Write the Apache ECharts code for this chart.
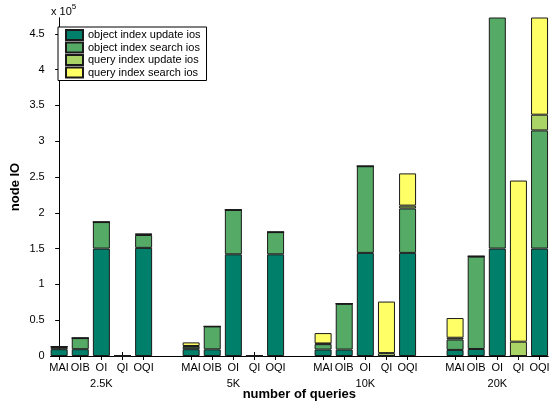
<!DOCTYPE html>
<html>
<head>
<meta charset="utf-8">
<script src="https://cdn.jsdelivr.net/npm/echarts@6/dist/echarts.min.js"></script>
<style>
html,body{margin:0;padding:0;background:#fff;}
#chart{width:559px;height:409px;}
</style>
</head>
<body>
<div id="chart"></div>
<script>
// Groups (number of queries) and methods within each group
const groups = ['2.5K', '5K', '10K', '20K'];
const methods = ['MAI', 'OIB', 'OI', 'QI', 'OQI'];
const seriesNames = ['object index update ios', 'object index search ios', 'query index update ios', 'query index search ios'];
const yTicks = [0, 0.5, 1, 1.5, 2, 2.5, 3, 3.5, 4, 4.5];

// Values in units of 1e5 node IOs, order per group: MAI, OIB, OI, QI, OQI
const objUpdate = [
  0.095, 0.095, 1.50, 0, 1.51,   // 2.5K
  0.095, 0.093, 1.42, 0, 1.42,   // 5K
  0.09,  0.09,  1.44, 0, 1.44,   // 10K
  0.085, 0.098, 1.50, 0, 1.50    // 20K
];
const objSearch = [
  0.03,  0.155, 0.37, 0, 0.18,
  0.035, 0.32,  0.62, 0, 0.31,
  0.075, 0.64,  1.21, 0, 0.62,
  0.145, 1.29,  3.60, 0, 1.65
];
const qryUpdate = [
  0.005, 0, 0, 0,    0.01,
  0.01,  0, 0, 0,    0,
  0.01,  0, 0, 0.04, 0.04,
  0.025, 0.005, 0, 0.20, 0.22
];
const qrySearch = [
  0.005, 0, 0, 0,    0.005,
  0.05,  0, 0, 0,    0,
  0.145, 0, 0, 0.72, 0.45,
  0.275, 0, 0, 2.25, 1.60
];
const seriesValues = [objUpdate, objSearch, qryUpdate, qrySearch];
const colors = ['#00806A', '#55AA66', '#AAD466', '#FFFF66'];

// slot layout along the x axis: bar index within group + group offset
const groupPeriod = 6.25;
const positions = [];
const labels = [];
groups.forEach((g, gi) => {
  methods.forEach((m, mi) => {
    positions.push(gi * groupPeriod + mi);
    labels.push(mi === 2 ? m + '\n' + g : m);
  });
});
const xMin = positions[0] - 0.4;
const xMax = positions[positions.length - 1] + 0.4;

function labelFor(v) {
  for (let i = 0; i < positions.length; i++) {
    if (Math.abs(positions[i] - v) < 1e-6) return labels[i];
  }
  return '';
}

const font = 'Liberation Sans, Arial, Helvetica, sans-serif';
const chart = echarts.init(document.getElementById('chart'), null, {renderer: 'canvas'});

// value is placed in dimension 0 so that it is the stacked dimension
const series = seriesNames.map((name, si) => ({
  name: name,
  type: 'bar',
  stack: 'total',
  barWidth: 17,
  xAxisIndex: 0,
  yAxisIndex: 0,
  clip: true,
  encode: {x: 1, y: 0},
  itemStyle: {color: colors[si], borderColor: '#1a1a1a', borderWidth: 1},
  emphasis: {disabled: true},
  data: seriesValues[si].map((v, i) => [v, positions[i]])
}));

chart.setOption({
  animation: false,
  backgroundColor: '#fff',
  textStyle: {fontFamily: font},
  grid: {left: 50.7, right: 11, top: 18, bottom: 53, containLabel: false, outerBoundsMode: 'none'},
  legend: {
    data: seriesNames,
    orient: 'vertical',
    left: 58,
    top: 27,
    icon: 'rect',
    itemWidth: 17,
    itemHeight: 10,
    itemGap: 0.5,
    padding: [2, 6, 2, 7],
    borderColor: '#000',
    borderWidth: 1,
    backgroundColor: '#fff',
    textStyle: {fontSize: 11, lineHeight: 12, color: '#000', fontFamily: font}
  },
  xAxis: [{
    type: 'value',
    position: 'bottom',
    min: xMin,
    max: xMax,
    name: 'number of queries',
    nameLocation: 'middle',
    nameGap: 32,
    nameMoveOverlap: false,
    nameTextStyle: {fontSize: 13, fontWeight: 'bold', color: '#000', fontFamily: font},
    axisLine: {show: true, lineStyle: {color: '#000', width: 1}},
    axisTick: {show: true, inside: true, length: 4, customValues: positions, lineStyle: {color: '#000'}},
    axisLabel: {
      show: true, customValues: positions, margin: 4, fontSize: 11, color: '#000',
      lineHeight: 16, fontFamily: font, formatter: labelFor
    },
    splitLine: {show: false}
  }, {
    type: 'value',
    position: 'top',
    min: xMin,
    max: xMax,
    axisLine: {show: true, lineStyle: {color: '#000', width: 1}},
    axisTick: {show: true, inside: true, length: 4, customValues: positions, lineStyle: {color: '#000'}},
    axisLabel: {show: false},
    splitLine: {show: false}
  }],
  yAxis: [{
    type: 'value',
    position: 'left',
    min: 0,
    max: 4.72,
    name: 'node IO',
    nameLocation: 'middle',
    nameGap: 29,
    nameMoveOverlap: false,
    nameTextStyle: {fontSize: 13, fontWeight: 'bold', color: '#000', fontFamily: font},
    axisLine: {show: true, lineStyle: {color: '#000', width: 1}},
    axisTick: {show: true, inside: false, length: 4, customValues: yTicks, lineStyle: {color: '#000'}},
    axisLabel: {show: true, customValues: yTicks, margin: 6, fontSize: 11, color: '#000', fontFamily: font},
    splitLine: {show: false}
  }, {
    type: 'value',
    position: 'right',
    min: 0,
    max: 4.72,
    axisLine: {show: true, lineStyle: {color: '#000', width: 1}},
    axisTick: {show: false},
    axisLabel: {show: false},
    splitLine: {show: false}
  }],
  graphic: [{
    type: 'text',
    left: 51,
    top: 3,
    style: {
      text: '{a|x 10}{b|5}',
      rich: {
        a: {fontSize: 11, fill: '#000', fontFamily: font, verticalAlign: 'bottom'},
        b: {fontSize: 8, fill: '#000', fontFamily: font, verticalAlign: 'top', padding: [0, 0, 6, 0]}
      }
    }
  }],
  series: series
});
</script>
</body>
</html>
